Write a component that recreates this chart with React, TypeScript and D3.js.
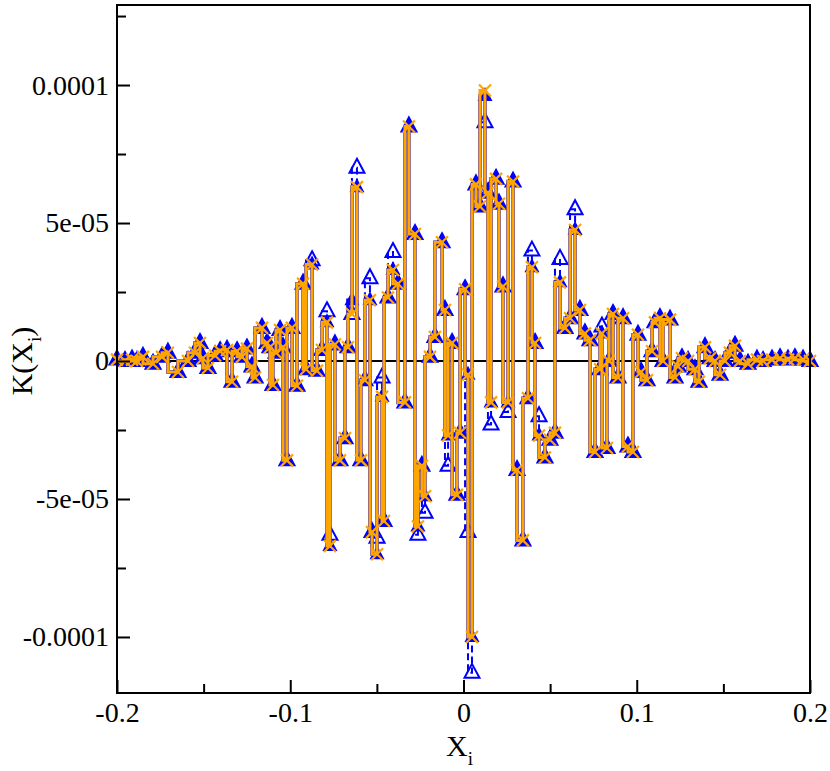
import { useEffect, useRef } from 'react';
import * as d3 from 'd3';

// sample points X_i (sorted)
const xi = [
	-0.2, -0.1954, -0.1913, -0.1885, -0.185, -0.1792, -0.174, -0.1706, -0.1648, -0.159,
	-0.155, -0.1521, -0.1504, -0.1475, -0.1434, -0.1405, -0.1365, -0.1336, -0.1307, -0.1279,
	-0.125, -0.1221, -0.1203, -0.1163, -0.1134, -0.1117, -0.11, -0.1082, -0.1059, -0.1042,
	-0.1019, -0.099, -0.0961, -0.0926, -0.0909, -0.0874, -0.0846, -0.0817, -0.0788, -0.0771,
	-0.0742, -0.0713, -0.0684, -0.0667, -0.0644, -0.0615, -0.0592, -0.0569, -0.054, -0.0528,
	-0.0499, -0.047, -0.0459, -0.0436, -0.0407, -0.0378, -0.0338, -0.0315, -0.028, -0.0263,
	-0.024, -0.0222, -0.0193, -0.0165, -0.0124, -0.0107, -0.0089, -0.0066, -0.0038, -0.002,
	0.0009, 0.0026, 0.0049, 0.0072, 0.0095, 0.0124, 0.0141, 0.0159, 0.0188, 0.0205,
	0.0228, 0.0257, 0.0286, 0.0309, 0.0343, 0.0372, 0.0395, 0.0413, 0.0436, 0.047,
	0.0499, 0.0528, 0.0557, 0.0586, 0.0615, 0.0644, 0.0672, 0.0701, 0.073, 0.0759,
	0.0788, 0.0799, 0.0828, 0.084, 0.0863, 0.0892, 0.0921, 0.0949, 0.0978, 0.1007,
	0.1025, 0.1059, 0.1088, 0.1105, 0.1134, 0.1152, 0.1192, 0.1221, 0.1238, 0.1261,
	0.1296, 0.1336, 0.1359, 0.1394, 0.1423, 0.1452, 0.1481, 0.1509, 0.1538, 0.1567,
	0.1596, 0.1642, 0.1694, 0.1729, 0.1781, 0.1827, 0.1873, 0.1913, 0.196, 0.2
];

// K(X_i) in units of 1e-5
const kFilled = [
	0.05, 0.0, 0.05, 0.0, 0.15, -0.1, 0.15, 0.3, -0.4, 0.0,
	0.3, 0.65, 0.1, -0.25, 0.2, 0.35, 0.4, -0.75, 0.35, 0.15,
	0.45, -0.2, -0.6, 1.2, 0.65, 0.5, -0.87, 0.3, 1.12, 0.5,
	-3.6, 1.2, -0.9, 2.8, -0.3, 3.5, -0.35, 0.4, 1.4, -6.7,
	0.6, -3.6, -2.8, 0.5, 2.2, 6.3, -3.6, -0.7, 2.2, -6.2,
	-7.0, -1.3, -5.8, 2.3, 3.3, 2.8, -1.5, 8.5, 4.6, -6.0,
	-3.8, -4.9, 0.15, 0.87, 4.3, 1.85, -2.7, 0.65, -4.85, -2.6,
	2.6, -0.5, -10.0, 6.4, 5.6, 9.6, 6.1, -1.5, 6.6, 5.7,
	2.7, -1.5, 6.5, -3.95, -6.5, -1.35, 3.4, 0.65, -2.7, -3.5,
	-2.85, -2.6, 2.85, 1.2, 1.55, 4.75, 1.85, 1.0, 0.75, -3.3,
	-0.3, 1.0, -3.15, 0.0, 1.7, -0.6, 1.55, -3.1, -3.3, 0.95,
	-0.4, -0.7, 0.35, 1.4, 1.55, 0.0, 1.5, -0.6, -0.2, 0.1,
	0.0, -0.3, -0.75, 0.5, 0.1, 0.0, -0.5, 0.0, 0.3, 0.55,
	0.0, -0.1, 0.05, 0.0, 0.05, 0.1, 0.05, 0.1, 0.05, 0.0
];

const kOpen = [
	0.05, 0.0, 0.05, 0.0, 0.15, -0.1, 0.15, 0.3, -0.4, 0.0,
	0.3, 0.65, 0.1, -0.25, 0.2, 0.35, 0.4, -0.75, 0.35, 0.15,
	0.45, -0.2, -0.6, 1.2, 0.65, 0.5, -0.87, 0.3, 1.12, 0.5,
	-3.6, 1.2, -0.9, 2.8, -0.3, 3.65, -0.35, 0.4, 1.8, -6.3,
	0.6, -3.6, -2.8, 0.5, 1.7, 7.0, -3.6, -0.7, 3.0, -6.2,
	-6.4, -0.6, -5.8, 2.3, 3.95, 2.8, -1.5, 8.5, 4.6, -6.3,
	-3.8, -5.5, 0.15, 0.87, 4.3, 1.85, -3.8, 0.65, -4.85, -2.6,
	2.6, -6.2, -11.3, 6.4, 5.6, 8.65, 6.1, -2.3, 6.6, 5.7,
	2.7, -1.85, 6.5, -3.95, -6.5, -1.35, 4.0, 0.65, -2.0, -3.5,
	-2.85, -2.6, 3.7, 1.2, 1.55, 5.5, 1.85, 1.0, 0.75, -3.3,
	-0.3, 1.25, -3.15, 0.0, 1.7, -0.6, 1.55, -3.1, -3.3, 0.95,
	-0.4, -0.7, 0.35, 1.4, 1.55, 0.0, 1.5, -0.6, -0.2, 0.1,
	0.0, -0.3, -0.75, 0.5, 0.1, 0.0, -0.5, 0.0, 0.3, 0.55,
	0.0, -0.1, 0.05, 0.0, 0.05, 0.1, 0.05, 0.1, 0.05, 0.0
];

const kCross = [
	0.05, 0.0, 0.05, 0.0, 0.15, -0.1, 0.15, 0.3, -0.4, 0.0,
	0.3, 0.65, 0.1, -0.25, 0.2, 0.35, 0.4, -0.75, 0.35, 0.15,
	0.45, -0.2, -0.6, 1.2, 0.65, 0.5, -0.87, 0.3, 1.12, 0.5,
	-3.6, 1.2, -0.9, 2.8, -0.3, 3.5, -0.35, 0.4, 1.4, -6.7,
	0.6, -3.6, -2.8, 0.5, 1.7, 6.3, -3.6, -0.7, 2.2, -6.2,
	-7.0, -1.3, -5.8, 2.3, 3.3, 2.8, -1.5, 8.5, 4.6, -6.0,
	-3.8, -4.9, 0.15, 0.87, 4.3, 1.85, -2.7, 0.65, -4.85, -2.6,
	2.6, -0.5, -10.0, 6.4, 5.6, 9.8, 6.1, -1.5, 6.6, 5.7,
	2.7, -1.5, 6.5, -3.95, -6.5, -1.35, 3.4, 0.65, -2.7, -3.5,
	-2.85, -2.6, 2.85, 1.2, 1.55, 4.75, 1.85, 1.0, 0.75, -3.3,
	-0.3, 1.0, -3.15, 0.0, 1.7, -0.6, 1.55, -3.1, -3.3, 0.95,
	-0.4, -0.7, 0.35, 1.4, 1.55, 0.0, 1.5, -0.6, -0.2, 0.1,
	0.0, -0.3, -0.75, 0.5, 0.1, 0.0, -0.5, 0.0, 0.3, 0.55,
	0.0, -0.1, 0.05, 0.0, 0.05, 0.1, 0.05, 0.1, 0.05, 0.0
];

const xTicks = [-0.2, -0.1, 0, 0.1, 0.2];
const xTickLabels = ['-0.2', '-0.1', '0', '0.1', '0.2'];
const xMinorTicks = [-0.15, -0.05, 0.05, 0.15];
const yTicks = [-1e-4, -5e-5, 0, 5e-5, 1e-4];
const yTickLabels = ['-0.0001', '-5e-05', '0', '5e-05', '0.0001'];
const yMinorTicks = [-7.5e-5, -2.5e-5, 2.5e-5, 7.5e-5, 1.25e-4];

export default function App() {
	const svgRef = useRef<SVGSVGElement>(null);

	useEffect(() => {
		const svg = d3.select(svgRef.current);
		svg.selectAll('*').remove();

		const width = 830;
		const height = 771;
		const margin = { top: 5, right: 20, bottom: 78, left: 117 };
		const w = width - margin.left - margin.right;
		const h = height - margin.top - margin.bottom;
		const font = '"Liberation Serif", "Times New Roman", serif';

		const x = d3.scaleLinear().domain([-0.2, 0.2]).range([0, w]);
		const y = d3.scaleLinear().domain([-1.203e-4, 1.29e-4]).range([h, 0]);

		const g = svg.append('g').attr('transform', `translate(${margin.left},${margin.top})`);

		// zero line
		g.append('line')
			.attr('x1', 0).attr('x2', w)
			.attr('y1', y(0)).attr('y2', y(0))
			.attr('stroke', '#000').attr('stroke-width', 2);

		const toPts = (vals: number[]) => vals.map((v, i) => ({ x: xi[i], v: v * 1e-5 }));
		const line = d3.line<{ x: number; v: number }>()
			.x((d) => x(d.x))
			.y((d) => y(d.v))
			.curve(d3.curveStepBefore);

		const tri = 'M0,-9L7.5,5L-7.5,5Z';

		// set 1: filled triangles, solid blue
		const filled = toPts(kFilled);
		g.append('path').datum(filled).attr('d', line)
			.attr('fill', 'none').attr('stroke', '#0000ff').attr('stroke-width', 3.5);
		g.append('g').selectAll('path').data(filled).join('path')
			.attr('transform', (d) => `translate(${x(d.x)},${y(d.v)})`)
			.attr('d', tri).attr('fill', '#0000ff');

		// set 2: open triangles, dashed blue
		const open = toPts(kOpen);
		g.append('path').datum(open).attr('d', line)
			.attr('fill', 'none').attr('stroke', '#0000ff').attr('stroke-width', 2)
			.attr('stroke-dasharray', '7,4');
		g.append('g').selectAll('path').data(open).join('path')
			.attr('transform', (d) => `translate(${x(d.x)},${y(d.v)})`)
			.attr('d', tri).attr('fill', 'none').attr('stroke', '#0000ff').attr('stroke-width', 2);

		// set 3: orange crosses
		const cross = toPts(kCross);
		g.append('path').datum(cross).attr('d', line)
			.attr('fill', 'none').attr('stroke', '#ffa500').attr('stroke-width', 3);
		g.append('g').selectAll('path').data(cross).join('path')
			.attr('transform', (d) => `translate(${x(d.x)},${y(d.v)})`)
			.attr('d', 'M-6,-6L6,6M-6,6L6,-6')
			.attr('fill', 'none').attr('stroke', '#ffa500').attr('stroke-width', 2.2);

		// axes, ticks pointing inward
		const styleAxis = (sel: any) => {
			sel.select('.domain').remove();
			sel.selectAll('line').attr('stroke', '#000').attr('stroke-width', 2);
			sel.selectAll('text').attr('fill', '#000').attr('font-family', font).attr('font-size', 28);
		};

		g.append('g').attr('transform', `translate(0,${h})`)
			.call(d3.axisBottom(x).tickValues(xTicks).tickSize(-13).tickPadding(9)
				.tickFormat((d, i) => xTickLabels[i]))
			.call(styleAxis);
		g.append('g').attr('transform', `translate(0,${h})`)
			.call(d3.axisBottom(x).tickValues(xMinorTicks).tickSize(-9).tickFormat(() => ''))
			.call(styleAxis);

		g.append('g')
			.call(d3.axisLeft(y).tickValues(yTicks).tickSize(-13).tickPadding(8)
				.tickFormat((d, i) => yTickLabels[i]))
			.call(styleAxis);
		g.append('g')
			.call(d3.axisLeft(y).tickValues(yMinorTicks).tickSize(-9).tickFormat(() => ''))
			.call(styleAxis);

		// frame
		g.append('rect').attr('width', w).attr('height', h)
			.attr('fill', 'none').attr('stroke', '#000').attr('stroke-width', 2);

		// axis titles
		const xt = svg.append('text')
			.attr('x', margin.left + w / 2 - 4).attr('y', 756)
			.attr('text-anchor', 'middle').attr('font-family', font).attr('font-size', 30);
		xt.append('tspan').text('X');
		xt.append('tspan').attr('font-size', 19).attr('dy', 9).text('i');

		const yt = svg.append('text')
			.attr('transform', `translate(32,${margin.top + y(0)}) rotate(-90)`)
			.attr('text-anchor', 'middle').attr('font-family', font).attr('font-size', 30);
		yt.append('tspan').text('K(X');
		yt.append('tspan').attr('font-size', 19).attr('dy', 9).text('i');
		yt.append('tspan').attr('dy', -9).text(')');

		return () => {
			svg.selectAll('*').remove();
		};
	}, []);

	return (
		<div style={{ position: 'absolute', left: 0, top: 0 }}>
			<svg ref={svgRef} width={830} height={771} style={{ display: 'block' }} />
		</div>
	);
}
